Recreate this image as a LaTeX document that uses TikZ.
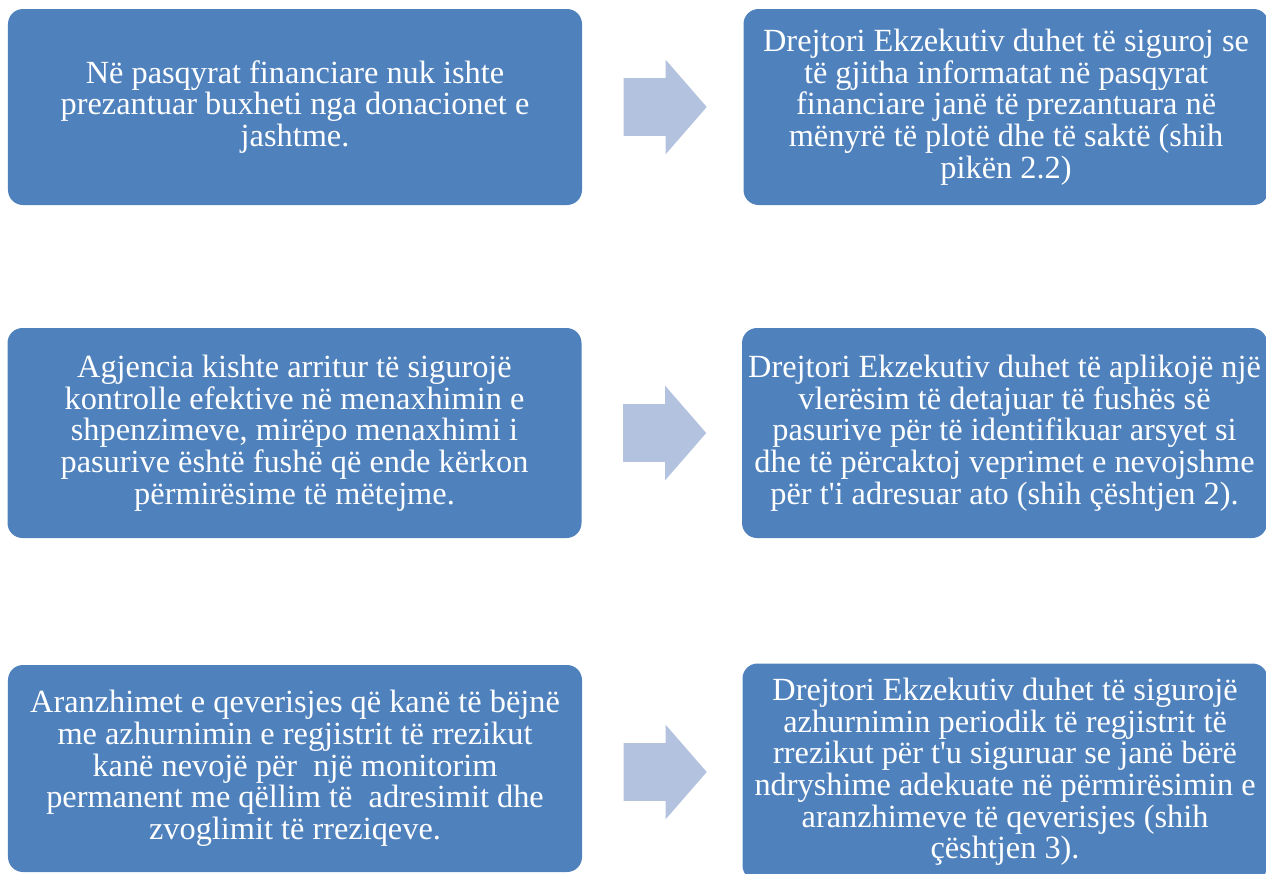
\documentclass[tikz,border=0pt]{standalone}
\usepackage{fontspec}
\setmainfont{Liberation Serif}
\usetikzlibrary{positioning,shapes.arrows}
\definecolor{boxblue}{HTML}{4F81BD}
\definecolor{arrowblue}{HTML}{B3C2DE}

\tikzset{
    finding/.style={rectangle, rounded corners=0.3cm, fill=boxblue, text=white, align=center,
        minimum width=11.48cm, font=\fontsize{18.4}{18}\selectfont},
    advice/.style={finding, minimum width=10.5cm},
    blockarrow/.style={single arrow, fill=arrowblue, minimum height=1.66cm, inner xsep=0pt,
        inner ysep=0.57cm, single arrow head extend=0.37cm, single arrow tip angle=98,
        single arrow head indent=0pt}
}

\begin{document}
\begin{tikzpicture}[node distance=0.82cm and 0.82cm]
    \useasboundingbox (0,0) rectangle (25.32,-17.46);
    \clip (0,0) rectangle (25.32,-17.46);

    % findings
    \node[finding, minimum height=3.92cm] (finding1) at (5.9,-2.14)
        {Në pasqyrat financiare nuk ishte\\ prezantuar buxheti nga donacionet e\\ jashtme.};
    \node[finding, minimum height=4.2cm] (finding2) at (5.89,-8.66)
        {Agjencia kishte arritur të sigurojë\\ kontrolle efektive në menaxhimin e\\ shpenzimeve, mirëpo menaxhimi i\\ pasurive është fushë që ende kërkon\\ përmirësime të mëtejme.};
    \node[finding, minimum height=4.14cm] (finding3) at (5.9,-15.37)
        {Aranzhimet e qeverisjes që kanë të bëjnë\\ me azhurnimin e regjistrit të rrezikut\\ kanë nevojë për~ një monitorim\\ permanent me qëllim të~ adresimit dhe\\ zvoglimit të rreziqeve.};

    % arrows
    \node[blockarrow, right=of finding1] (arrow1) {};
    \node[blockarrow, right=of finding2] (arrow2) {};
    \node[blockarrow, right=of finding3, yshift=-0.07cm] (arrow3) {};

    % recommendations
    \node[advice, minimum height=3.92cm, right=0.72cm of arrow1] (advice1)
        {Drejtori Ekzekutiv duhet të siguroj se\\ të gjitha informatat në pasqyrat\\ financiare janë të prezantuara në\\ mënyrë të plotë dhe të saktë (shih\\ pikën 2.2)};
    \node[advice, minimum height=4.2cm, right=0.7cm of arrow2] (advice2)
        {Drejtori Ekzekutiv duhet të aplikojë një\\ vlerësim të detajuar të fushës së\\ pasurive për të identifikuar arsyet si\\ dhe të përcaktoj veprimet e nevojshme\\ për t\textquotesingle i adresuar ato (shih çështjen 2).};
    \node[advice, minimum height=4.34cm, right=0.7cm of arrow3] (advice3)
        {Drejtori Ekzekutiv duhet të sigurojë\\ azhurnimin periodik të regjistrit të\\ rrezikut për t\textquotesingle u siguruar se janë bërë\\ ndryshime adekuate në përmirësimin e\\ aranzhimeve të qeverisjes (shih\\ çështjen 3).};
\end{tikzpicture}
\end{document}
